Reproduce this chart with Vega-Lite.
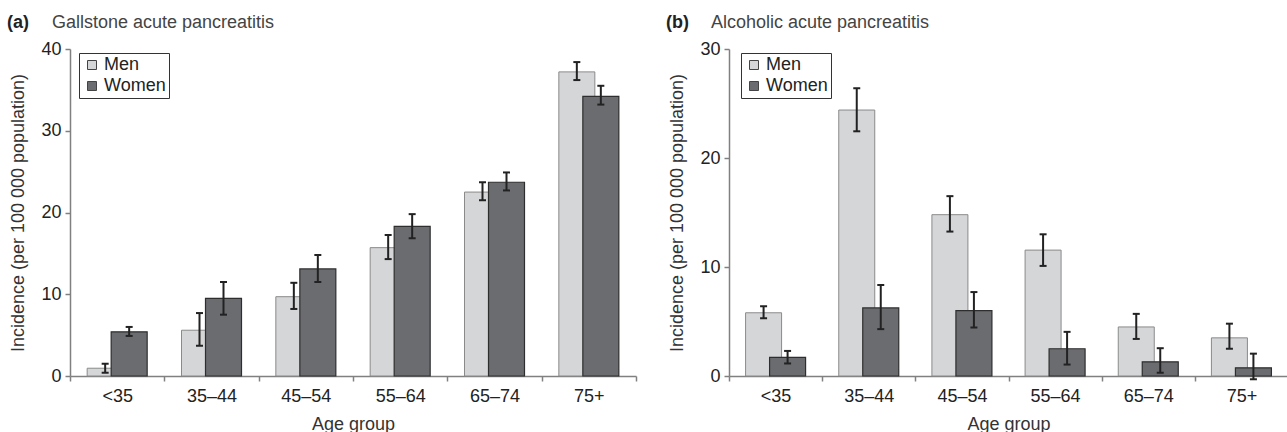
{
  "$schema": "https://vega.github.io/schema/vega-lite/v6.json",
  "padding": {"left": 6, "top": 14, "right": 0, "bottom": 0},
  "spacing": 28,
  "resolve": {"scale": {"color": "independent"}, "legend": {"color": "independent"}},
  "config": {
    "font": "Liberation Sans",
    "view": {"stroke": null},
    "axis": {
      "domainColor": "#808080", "domainWidth": 1.5, "tickColor": "#808080", "tickWidth": 1.5, "tickSize": 5,
      "labelFont": "Liberation Sans", "labelFontSize": 18, "labelColor": "#222",
      "titleFont": "Liberation Sans", "titleFontSize": 18, "titleFontWeight": "normal", "titleColor": "#333",
      "grid": false
    },
    "legend": {
      "labelFont": "Liberation Sans", "labelFontSize": 18, "labelColor": "#222",
      "symbolType": "square", "symbolSize": 81, "symbolStrokeColor": "#444", "symbolStrokeWidth": 1,
      "strokeColor": "#333", "fillColor": "#ffffff", "padding": 3, "rowPadding": 3,
      "symbolOffset": 1, "labelOffset": 3, "title": null
    },
    "title": {
      "anchor": "start", "frame": "bounds", "font": "Liberation Sans", "fontSize": 18, "fontWeight": "bold", "color": "#222",
      "subtitleFont": "Liberation Sans", "subtitleFontSize": 18, "subtitleColor": "#444", "subtitlePadding": -18, "offset": 8, "dx": -3
    }
  },
  "datasets": {
    "gall": [
      {"age": "<35", "sex": "Men", "value": 0.95, "lo": 0.4, "hi": 1.5},
      {"age": "<35", "sex": "Women", "value": 5.4, "lo": 4.9, "hi": 6.0},
      {"age": "35–44", "sex": "Men", "value": 5.6, "lo": 3.7, "hi": 7.7},
      {"age": "35–44", "sex": "Women", "value": 9.5, "lo": 7.5, "hi": 11.5},
      {"age": "45–54", "sex": "Men", "value": 9.7, "lo": 8.2, "hi": 11.4},
      {"age": "45–54", "sex": "Women", "value": 13.1, "lo": 11.5, "hi": 14.8},
      {"age": "55–64", "sex": "Men", "value": 15.7, "lo": 14.3, "hi": 17.25},
      {"age": "55–64", "sex": "Women", "value": 18.3, "lo": 16.85, "hi": 19.8},
      {"age": "65–74", "sex": "Men", "value": 22.5, "lo": 21.5, "hi": 23.7},
      {"age": "65–74", "sex": "Women", "value": 23.7, "lo": 22.7, "hi": 24.9},
      {"age": "75+", "sex": "Men", "value": 37.2, "lo": 36.2, "hi": 38.4},
      {"age": "75+", "sex": "Women", "value": 34.2, "lo": 33.2, "hi": 35.5}
    ],
    "alc": [
      {"age": "<35", "sex": "Men", "value": 5.8, "lo": 5.3, "hi": 6.4},
      {"age": "<35", "sex": "Women", "value": 1.7, "lo": 1.15, "hi": 2.3},
      {"age": "35–44", "sex": "Men", "value": 24.4, "lo": 22.45, "hi": 26.4},
      {"age": "35–44", "sex": "Women", "value": 6.25, "lo": 4.3, "hi": 8.35},
      {"age": "45–54", "sex": "Men", "value": 14.8, "lo": 13.25, "hi": 16.5},
      {"age": "45–54", "sex": "Women", "value": 6.0, "lo": 4.45, "hi": 7.7},
      {"age": "55–64", "sex": "Men", "value": 11.55, "lo": 10.1, "hi": 13.0},
      {"age": "55–64", "sex": "Women", "value": 2.5, "lo": 1.05, "hi": 4.05},
      {"age": "65–74", "sex": "Men", "value": 4.5, "lo": 3.4, "hi": 5.7},
      {"age": "65–74", "sex": "Women", "value": 1.3, "lo": 0.3, "hi": 2.55},
      {"age": "75+", "sex": "Men", "value": 3.5, "lo": 2.5, "hi": 4.8},
      {"age": "75+", "sex": "Women", "value": 0.75, "lo": -0.3, "hi": 2.05}
    ]
  },
  "hconcat": [
    {
      "width": 566, "height": 327,
      "data": {"name": "gall"},
      "title": {"text": "(a)", "subtitle": "\u200b\u00a0\u00a0\u00a0\u00a0\u00a0\u00a0\u00a0\u00a0\u00a0Gallstone acute pancreatitis"},
      "encoding": {
        "x": {"field": "age", "type": "nominal", "sort": null, "title": "Age group",
          "scale": {"paddingInner": 0, "paddingOuter": 0},
          "axis": {"labelAngle": 0, "tickBand": "extent", "labelPadding": 6, "titlePadding": 10}}
      },
      "layer": [
        {"transform": [{"filter": "datum.sex === 'Men'"}],
         "mark": {"type": "bar", "width": 36, "xOffset": -12, "stroke": "#8a8a8a", "strokeWidth": 1},
         "encoding": {
           "y": {"field": "value", "type": "quantitative", "stack": null, "title": "Incidence (per 100 000 population)",
             "scale": {"domain": [0, 40]}, "axis": {"values": [0, 10, 20, 30, 40], "labelPadding": 4, "titlePadding": 13}},
           "color": {"field": "sex", "type": "nominal", "scale": {"domain": ["Men", "Women"], "range": ["#d5d6d8", "#6b6c70"]},
             "legend": {"orient": "none", "legendX": 9, "legendY": 4}}
         }},
        {"transform": [{"filter": "datum.sex === 'Men'"}],
         "mark": {"type": "rule", "xOffset": -12, "color": "#222", "strokeWidth": 2},
         "encoding": {"y": {"field": "lo", "type": "quantitative"}, "y2": {"field": "hi"}}},
        {"transform": [{"filter": "datum.sex === 'Men'"}],
         "mark": {"type": "tick", "orient": "horizontal", "xOffset": -12, "color": "#222", "size": 7, "thickness": 2, "opacity": 1},
         "encoding": {"y": {"field": "lo", "type": "quantitative"}}},
        {"transform": [{"filter": "datum.sex === 'Men'"}],
         "mark": {"type": "tick", "orient": "horizontal", "xOffset": -12, "color": "#222", "size": 7, "thickness": 2, "opacity": 1},
         "encoding": {"y": {"field": "hi", "type": "quantitative"}}},
        {"transform": [{"filter": "datum.sex === 'Women'"}],
         "mark": {"type": "bar", "width": 36, "xOffset": 12, "stroke": "#2e2e2e", "strokeWidth": 1.2},
         "encoding": {
           "y": {"field": "value", "type": "quantitative", "stack": null},
           "color": {"field": "sex", "type": "nominal"}
         }},
        {"transform": [{"filter": "datum.sex === 'Women'"}],
         "mark": {"type": "rule", "xOffset": 12, "color": "#222", "strokeWidth": 2},
         "encoding": {"y": {"field": "lo", "type": "quantitative"}, "y2": {"field": "hi"}}},
        {"transform": [{"filter": "datum.sex === 'Women'"}],
         "mark": {"type": "tick", "orient": "horizontal", "xOffset": 12, "color": "#222", "size": 7, "thickness": 2, "opacity": 1},
         "encoding": {"y": {"field": "lo", "type": "quantitative"}}},
        {"transform": [{"filter": "datum.sex === 'Women'"}],
         "mark": {"type": "tick", "orient": "horizontal", "xOffset": 12, "color": "#222", "size": 7, "thickness": 2, "opacity": 1},
         "encoding": {"y": {"field": "hi", "type": "quantitative"}}}
      ]
    },
    {
      "width": 559, "height": 327,
      "data": {"name": "alc"},
      "title": {"text": "(b)", "subtitle": "\u200b\u00a0\u00a0\u00a0\u00a0\u00a0\u00a0\u00a0\u00a0\u00a0Alcoholic acute pancreatitis"},
      "encoding": {
        "x": {"field": "age", "type": "nominal", "sort": null, "title": "Age group",
          "scale": {"paddingInner": 0, "paddingOuter": 0},
          "axis": {"labelAngle": 0, "tickBand": "extent", "labelPadding": 6, "titlePadding": 10}}
      },
      "layer": [
        {"transform": [{"filter": "datum.sex === 'Men'"}],
         "mark": {"type": "bar", "width": 36, "xOffset": -12, "stroke": "#8a8a8a", "strokeWidth": 1},
         "encoding": {
           "y": {"field": "value", "type": "quantitative", "stack": null, "title": "Incidence (per 100 000 population)",
             "scale": {"domain": [0, 30]}, "axis": {"values": [0, 10, 20, 30], "labelPadding": 4, "titlePadding": 13}},
           "color": {"field": "sex", "type": "nominal", "scale": {"domain": ["Men", "Women"], "range": ["#d5d6d8", "#6b6c70"]},
             "legend": {"orient": "none", "legendX": 12, "legendY": 4}}
         }},
        {"transform": [{"filter": "datum.sex === 'Men'"}],
         "mark": {"type": "rule", "xOffset": -12, "color": "#222", "strokeWidth": 2},
         "encoding": {"y": {"field": "lo", "type": "quantitative"}, "y2": {"field": "hi"}}},
        {"transform": [{"filter": "datum.sex === 'Men'"}],
         "mark": {"type": "tick", "orient": "horizontal", "xOffset": -12, "color": "#222", "size": 7, "thickness": 2, "opacity": 1},
         "encoding": {"y": {"field": "lo", "type": "quantitative"}}},
        {"transform": [{"filter": "datum.sex === 'Men'"}],
         "mark": {"type": "tick", "orient": "horizontal", "xOffset": -12, "color": "#222", "size": 7, "thickness": 2, "opacity": 1},
         "encoding": {"y": {"field": "hi", "type": "quantitative"}}},
        {"transform": [{"filter": "datum.sex === 'Women'"}],
         "mark": {"type": "bar", "width": 36, "xOffset": 12, "stroke": "#2e2e2e", "strokeWidth": 1.2},
         "encoding": {
           "y": {"field": "value", "type": "quantitative", "stack": null},
           "color": {"field": "sex", "type": "nominal"}
         }},
        {"transform": [{"filter": "datum.sex === 'Women'"}],
         "mark": {"type": "rule", "xOffset": 12, "color": "#222", "strokeWidth": 2},
         "encoding": {"y": {"field": "lo", "type": "quantitative"}, "y2": {"field": "hi"}}},
        {"transform": [{"filter": "datum.sex === 'Women'"}],
         "mark": {"type": "tick", "orient": "horizontal", "xOffset": 12, "color": "#222", "size": 7, "thickness": 2, "opacity": 1},
         "encoding": {"y": {"field": "lo", "type": "quantitative"}}},
        {"transform": [{"filter": "datum.sex === 'Women'"}],
         "mark": {"type": "tick", "orient": "horizontal", "xOffset": 12, "color": "#222", "size": 7, "thickness": 2, "opacity": 1},
         "encoding": {"y": {"field": "hi", "type": "quantitative"}}}
      ]
    }
  ]
}
